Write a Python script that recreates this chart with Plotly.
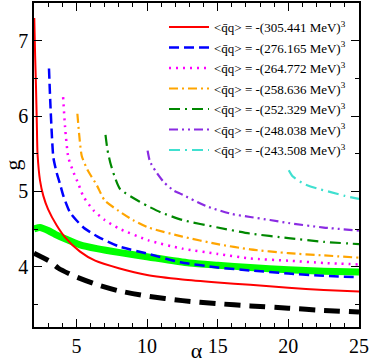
import plotly.graph_objects as go

# ---- data ----
red_x = [2.02, 2.08, 2.14, 2.2, 2.25, 2.43, 2.66, 3.0, 3.6, 4.2, 5.26, 6.33, 8, 10, 12.5, 15, 17.3, 20, 22.5, 25]
red_g = [7.3, 6.8, 6.4, 5.9, 5.5, 5.14, 4.94, 4.76, 4.55, 4.39, 4.2, 4.08, 3.98, 3.89, 3.83, 3.79, 3.76, 3.72, 3.69, 3.67]

blue_x = [3.06, 3.15, 3.25, 3.37, 3.6, 3.84, 4.08, 4.55, 5.5, 6.5, 8, 10.1, 12.35, 15, 17.3, 20, 22.5, 25]
blue_g = [6.63, 6.2, 5.8, 5.45, 5.25, 5.10, 4.94, 4.72, 4.52, 4.40, 4.27, 4.17, 4.06, 3.99, 3.95, 3.91, 3.88, 3.86]

mag_x = [4.06, 4.2, 4.43, 4.8, 5.14, 5.5, 6.2, 7.0, 7.98, 10.1, 12.5, 15, 17.3, 20, 22.5, 25]
mag_g = [6.25, 5.85, 5.45, 5.25, 5.10, 4.93, 4.75, 4.62, 4.51, 4.35, 4.24, 4.17, 4.11, 4.08, 4.05, 4.03]

org_x = [5.07, 5.2, 5.38, 5.8, 6.45, 7.0, 8.0, 9.0, 10.1, 12.5, 15, 17.3, 20, 22.5, 25]
org_g = [6.03, 5.75, 5.47, 5.28, 5.08, 4.88, 4.74, 4.62, 4.52, 4.40, 4.30, 4.23, 4.18, 4.15, 4.12]

grn_x = [7.06, 7.2, 7.4, 7.7, 8.1, 9.5, 10.1, 11, 12.5, 15, 17.3, 20, 22.5, 25]
grn_g = [5.75, 5.55, 5.38, 5.2, 5.03, 4.86, 4.80, 4.72, 4.62, 4.52, 4.44, 4.38, 4.33, 4.30]

pur_x = [10.04, 10.2, 10.6, 11.2, 11.9, 12.35, 14.25, 16, 17.3, 18.7, 20, 22.5, 25]
pur_g = [5.54, 5.40, 5.27, 5.12, 5.01, 4.97, 4.80, 4.70, 4.66, 4.62, 4.58, 4.52, 4.48]

cyn_x = [20.03, 20.3, 21.1, 22, 23, 24, 25]
cyn_g = [5.28, 5.20, 5.10, 5.04, 4.99, 4.94, 4.90]

lime_x = [2.0, 2.43, 3.0, 3.5, 4.2, 5.26, 6.45, 7.98, 10.1, 13, 15, 17.3, 20, 22.5, 25]
lime_g = [4.50, 4.52, 4.48, 4.43, 4.37, 4.29, 4.24, 4.19, 4.13, 4.05, 4.02, 3.99, 3.96, 3.94, 3.93]

blk_x = [2.0, 3.13, 3.73, 4.79, 6.33, 8, 10, 12.5, 15, 17.3, 20, 22.5, 25]
blk_g = [4.18, 4.07, 3.98, 3.88, 3.77, 3.68, 3.61, 3.55, 3.51, 3.48, 3.45, 3.42, 3.40]

condensates = ["305.441", "276.165", "264.772", "258.636", "252.329", "248.038", "243.508"]

x_ticks = [5, 10, 15, 20, 25]
y_ticks = [4, 5, 6, 7]

# ---- figure ----
fig = go.Figure()
SERIF = "Liberation Serif"

fig.add_trace(go.Scatter(x=lime_x, y=lime_g, mode="lines", showlegend=False,
                         line=dict(color="#00ff00", width=7, shape="spline", smoothing=0.6)))
fig.add_trace(go.Scatter(x=blk_x, y=blk_g, mode="lines", showlegend=False,
                         line=dict(color="black", width=5, dash="16px,9px", shape="spline", smoothing=0.6)))

series = [
    (red_x, red_g, "#ff0000", "solid", 2),
    (blue_x, blue_g, "#0000ff", "10px,5px", 2.5),
    (mag_x, mag_g, "#ff00ff", "2px,5px", 2.5),
    (org_x, org_g, "#ffa500", "9px,4px,2px,4px", 2.2),
    (grn_x, grn_g, "#008800", "11px,5px,2px,5px", 2.2),
    (pur_x, pur_g, "#8a2be2", "9px,4px,2px,4px,2px,4px", 2.2),
    (cyn_x, cyn_g, "#40e0d0", "11px,5px,2px,5px", 2.2),
]
for i, ((xs, gs, col, dash, w), val) in enumerate(zip(series, condensates)):
    fig.add_trace(go.Scatter(
        x=xs, y=gs, mode="lines", legendgroup=f"g{i}",
        name="&lt;q\u0304q&gt; = -(" + val + " MeV)<sup>3</sup>",
        line=dict(color=col, width=w, dash=dash, shape="spline", smoothing=0.6)))

axis_common = dict(
    showline=True, linecolor="black", linewidth=1.5, mirror="ticks",
    ticks="inside", ticklen=8, tickwidth=1.2, tickcolor="black",
    showgrid=False, zeroline=False, automargin=False,
    tickfont=dict(family=SERIF, size=20, color="black"),
)
fig.update_xaxes(range=[2, 25], tickvals=x_ticks,
                 minor=dict(dtick=1, ticks="inside", ticklen=4, tickwidth=1, tickcolor="black"),
                 title=dict(text="α", font=dict(family=SERIF, size=22, color="black"), standoff=6),
                 **axis_common)
fig.update_yaxes(range=[3.2, 7.5], tickvals=y_ticks,
                 minor=dict(dtick=0.5, ticks="inside", ticklen=4, tickwidth=1, tickcolor="black"),
                 title=dict(text="g", font=dict(family=SERIF, size=22, color="black"), standoff=3),
                 **axis_common)

fig.update_layout(
    width=370, height=363,
    margin=dict(l=34, r=11, t=3, b=36),
    plot_bgcolor="white", paper_bgcolor="white",
    legend=dict(x=0.40, y=0.972, xanchor="left", yanchor="top",
                bgcolor="rgba(0,0,0,0)", borderwidth=0,
                font=dict(family=SERIF, size=13, color="black"),
                tracegroupgap=0.6, itemwidth=40),
)

fig.write_html("out.html", config={"displayModeBar": False},
               post_script="document.body.style.margin='0';")
